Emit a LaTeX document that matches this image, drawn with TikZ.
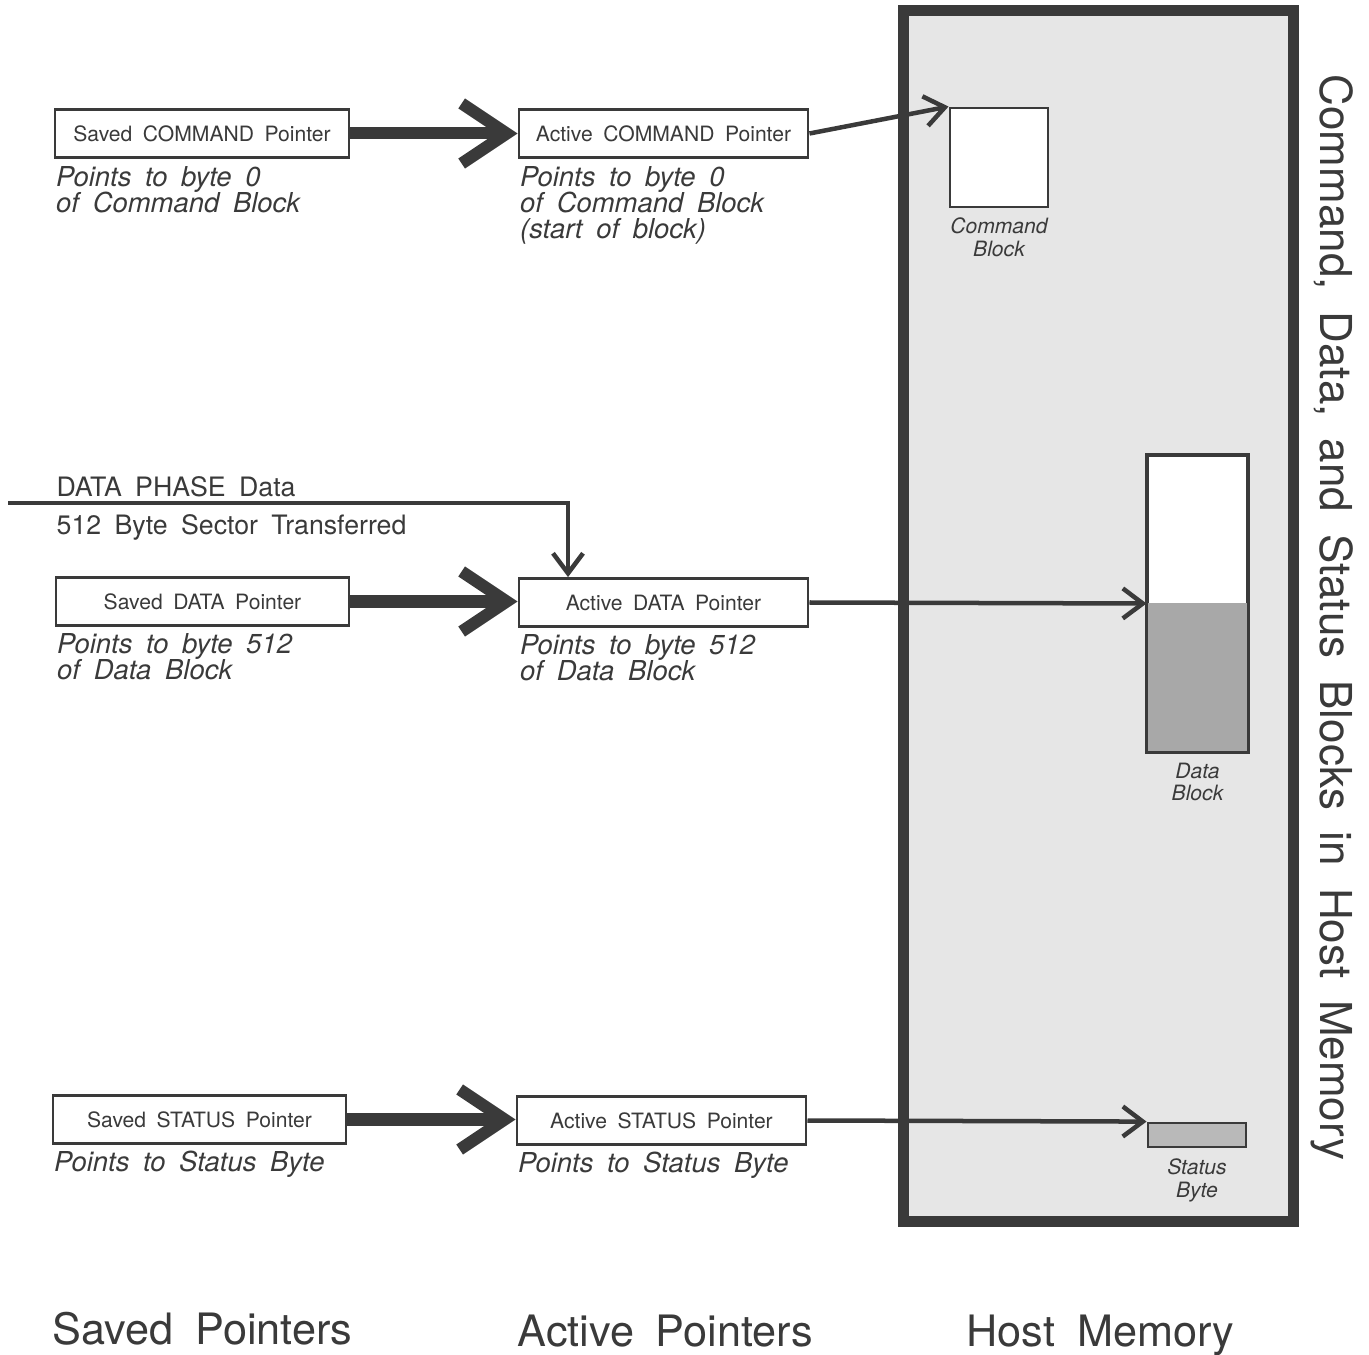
\documentclass[tikz,border=0pt]{standalone}
\usepackage{fontspec}
\setmainfont{TeX Gyre Heros}[WordSpace=1.8]
\usetikzlibrary{arrows.meta,positioning}
\definecolor{ink}{HTML}{3A3A3A}
\definecolor{memgray}{HTML}{E6E6E6}
\definecolor{blkgray}{HTML}{A8A8A8}
\newcommand\tightlines{\setlength{\lineskiplimit}{-10pt}}

\begin{document}
\begin{tikzpicture}[x=0.01cm, y=-0.01cm,
    ptrbox/.style={draw=ink, line width=0.8pt, fill=white, minimum width=2.91cm, minimum height=0.48cm, inner sep=0pt, text=ink, font=\fontsize{6}{7}\selectfont},
    ptrnote/.style={inner sep=0pt, align=left, text=ink, font=\fontsize{7.8}{7.4}\selectfont\itshape\tightlines},
    fatarrow/.style={draw=ink, line width=0.12cm, -{Straight Barb[length=0.45cm, width=0.6cm]}},
    thinarrow/.style={draw=ink, line width=0.045cm, -{Straight Barb[length=0.2cm, width=0.3cm]}},
    memblock/.style={draw=ink, line width=0.8pt, fill=white, inner sep=0pt},
    blklabel/.style={inner sep=0pt, align=center, text=ink, font=\fontsize{6}{6.3}\selectfont\itshape\tightlines},
    heading/.style={inner sep=0pt, text=ink, font=\fontsize{12.3}{14}\selectfont}]
    \useasboundingbox (0,0) rectangle (1369,1355);
    % Host memory
    \draw[draw=ink, fill=memgray, line width=0.11cm] (903.5,10.5) rectangle (1293.5,1221.5);
    \node[memblock, minimum width=0.98cm, minimum height=0.99cm] (cmdblk) at (999,157.5) {};
    \node[memblock, minimum width=0.99cm, minimum height=2.95cm] (datblk) at (1197.5,603.5) {};
    \fill[blkgray] (datblk.west) rectangle (datblk.south east);
    \draw[ink, line width=0.8pt] (datblk.north west) rectangle (datblk.south east);
    \node[memblock, fill=blkgray!80, minimum width=0.98cm, minimum height=0.24cm] (statbyte) at (1197,1135) {};
    \node[blklabel, below=0.09cm of cmdblk] (cmdlabel) {Command\\Block};
    \node[blklabel, below=0.1cm of datblk] (datlabel) {Data\\Block};
    \node[blklabel, below=0.1cm of statbyte] (statlabel) {Status\\Byte};
    % Saved pointers
    \node[ptrbox, minimum width=2.94cm] (sc) at (202,133.5) {Saved COMMAND Pointer};
    \node[ptrbox, minimum width=2.93cm] (sd) at (202.5,601.5) {Saved DATA Pointer};
    \node[ptrbox, minimum width=2.93cm] (ss) at (199.5,1119.5) {Saved STATUS Pointer};
    \node[ptrnote, below right=0.07cm and 0.02cm of sc.south west] (scnote) {Points to byte 0\\of Command Block};
    \node[ptrnote, below right=0.06cm and 0.02cm of sd.south west] (sdnote) {Points to byte 512\\of Data Block};
    \node[ptrnote, below right=0.05cm and 0.02cm of ss.south west] (ssnote) {Points to Status Byte};
    % Active pointers
    \node[ptrbox, minimum width=2.89cm] (ac) at (663.5,133.5) {Active COMMAND Pointer};
    \node[ptrbox, minimum width=2.89cm] (ad) at (663.5,602.5) {Active DATA Pointer};
    \node[ptrbox, minimum width=2.89cm] (as) at (661.5,1120.5) {Active STATUS Pointer};
    \node[ptrnote, below right=0.07cm and 0.02cm of ac.south west] (acnote) {Points to byte 0\\of Command Block\\(start of block)};
    \node[ptrnote, below right=0.06cm and 0.02cm of ad.south west] (adnote) {Points to byte 512\\of Data Block};
    \node[ptrnote, below right=0.05cm and 0.02cm of as.south west] (asnote) {Points to Status Byte};
    % Saved -> active
    \draw[fatarrow] (sc.east) -- (sc.east -| ac.west);
    \draw[fatarrow] (sd.east) -- (sd.east -| ad.west);
    \draw[fatarrow] (ss.east) -- (ss.east -| as.west);
    % Active -> host memory
    \draw[thinarrow] (ac.east) -- (cmdblk.north west);
    \draw[thinarrow] (ad.east) -- (datblk.west);
    \draw[thinarrow] (as.east) -- (statbyte.north west);
    % Data phase
    \coordinate (dpin) at (8,503);
    \coordinate (dpturn) at (568,503);
    \draw[thinarrow] (dpin) -- (dpturn) -- (dpturn |- ad.north);
    \node[anchor=base west, inner sep=0pt, text=ink, font=\fontsize{7.6}{9}\selectfont] (dplabel) at (56,497) {DATA PHASE Data};
    \node[anchor=base west, inner sep=0pt, text=ink, font=\fontsize{7.6}{9}\selectfont] (sectorlabel) at (56,535) {512 Byte Sector Transferred};
    % Headings
    \node[heading, font=\fontsize{12.5}{14}\selectfont, rotate=-90, anchor=base] (title) at (1320,617.5) {Command, Data, and Status Blocks in Host Memory};
    \node[heading, anchor=base west] (savedhead) at (52,1344) {Saved Pointers};
    \node[heading, anchor=base west] (activehead) at (517,1346) {Active Pointers};
    \node[heading, anchor=base west] (hosthead) at (966,1346) {Host Memory};
\end{tikzpicture}
\end{document}
